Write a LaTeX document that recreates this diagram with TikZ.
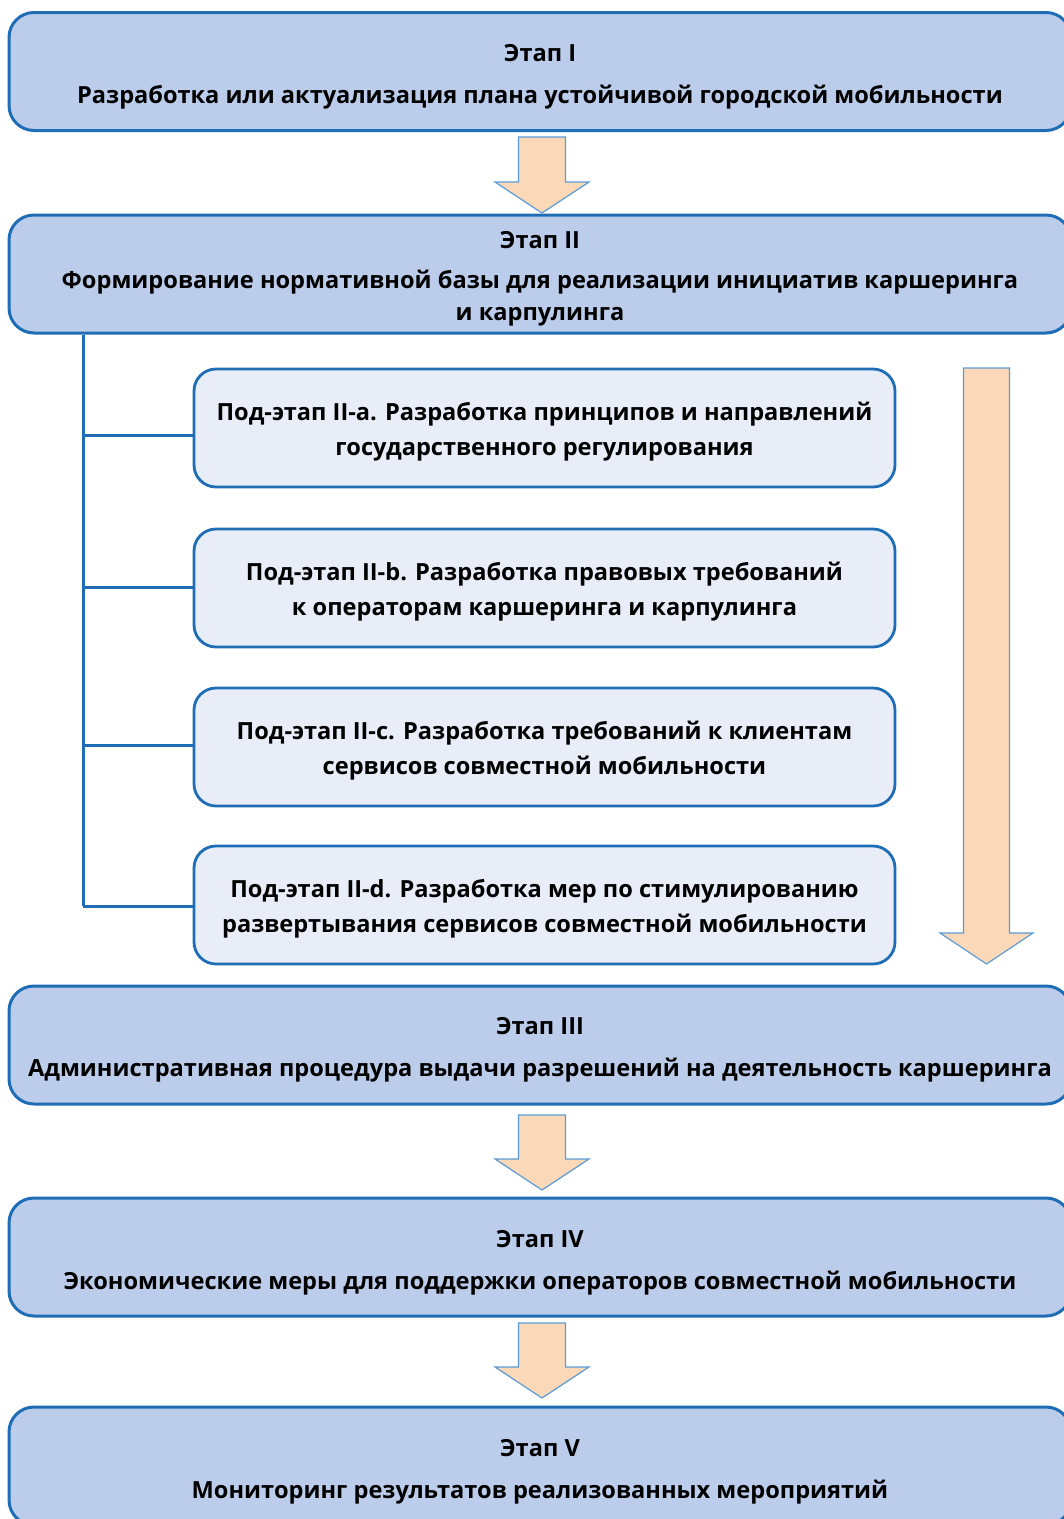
\documentclass[tikz,border=0pt]{standalone}
\usepackage{fontspec}
\setmainfont{Open Sans}
\usetikzlibrary{calc}
\definecolor{boxline}{HTML}{1F6DB5}
\definecolor{bigfill}{HTML}{BCCDEB}
\definecolor{subfill}{HTML}{E8EDF8}
\definecolor{arrfill}{HTML}{FBD9B8}
\definecolor{arrline}{HTML}{5B9BD5}
\tikzset{
  txt/.style={font=\fontsize{23.6}{32}\selectfont\bfseries, text=black, align=center, inner sep=0pt},
  bigbox/.style={draw=boxline, line width=3pt, fill=bigfill, rounded corners=25pt,
    minimum width=1062pt, minimum height=118pt, inner sep=0pt},
  subbox/.style={draw=boxline, line width=2.8pt, fill=subfill, rounded corners=22pt,
    minimum width=701pt, minimum height=118pt, inner sep=0pt},
  blockarrow/.style={draw=arrline, line width=1.2pt, fill=arrfill, line join=miter},
  treeline/.style={draw=boxline, line width=3pt}
}
\begin{document}
\begin{tikzpicture}[x=1pt,y=-1pt]
\useasboundingbox (0,0) rectangle (1064,1519);
\clip (0,0) rectangle (1064,1519);
% big boxes
\node[bigbox] (s1) at (540,71.5) {};
\node[txt] (s1t) at ($(s1.center)+(0,5)$) {Этап I\\[10pt]Разработка или актуализация плана устойчивой городской мобильности};
\node[bigbox] (s2) at (540,274) {};
\node[txt] (s2t) at ($(s2.center)+(0,5)$) {Этап II\\[8pt]Формирование нормативной базы для реализации инициатив каршеринга\\[0pt]и карпулинга};
\node[bigbox] (s3) at (540,1045) {};
\node[txt] (s3t) at ($(s3.center)+(0,5)$) {Этап III\\[10pt]Административная процедура выдачи разрешений на деятельность каршеринга};
\node[bigbox] (s4) at (540,1257) {};
\node[txt] (s4t) at ($(s4.center)+(0,6)$) {Этап IV\\[10pt]Экономические меры для поддержки операторов совместной мобильности};
\node[bigbox] (s5) at (540,1466) {};
\node[txt] (s5t) at ($(s5.center)+(0,5.5)$) {Этап V\\[10pt]Мониторинг результатов реализованных мероприятий};
% sub boxes
\node[subbox] (a) at (544.5,428) {};
\node[txt] (at) at ($(a.center)+(0,4)$) {Под-этап II-a. Разработка принципов и направлений\\[3pt]государственного регулирования};
\node[subbox] (b) at (544.5,588) {};
\node[txt] (bt) at ($(b.center)+(0,4)$) {Под-этап II-b. Разработка правовых требований\\[3pt]к операторам каршеринга и карпулинга};
\node[subbox] (c) at (544.5,747) {};
\node[txt] (ct) at ($(c.center)+(0,4)$) {Под-этап II-c. Разработка требований к клиентам\\[3pt]сервисов совместной мобильности};
\node[subbox] (d) at (544.5,905) {};
\node[txt] (dt) at ($(d.center)+(0,4)$) {Под-этап II-d. Разработка мер по стимулированию\\[3pt]развертывания сервисов совместной мобильности};
% tree
\coordinate (root) at (s2.south -| 83,0);
\coordinate (trunk) at (83,906);
\draw[treeline] (root) -- (trunk);
\draw[treeline] (83,435) -- (83,435 -| a.west);
\draw[treeline] (83,587) -- (83,587 -| b.west);
\draw[treeline] (83,745) -- (83,745 -| c.west);
\draw[treeline] (trunk) -- (trunk -| d.west);
% block arrows between stages
\draw[blockarrow] (518.5,137) -- (565.5,137) -- (565.5,182) -- (589,182) -- (542,213) -- (495,182) -- (518.5,182) -- cycle;
\draw[blockarrow] (518.5,1115) -- (565.5,1115) -- (565.5,1159) -- (589,1159) -- (542,1190) -- (495,1159) -- (518.5,1159) -- cycle;
\draw[blockarrow] (518.5,1323) -- (565.5,1323) -- (565.5,1367) -- (589,1367) -- (542,1398) -- (495,1367) -- (518.5,1367) -- cycle;
% long arrow
\draw[blockarrow] (963.5,368) -- (1009.5,368) -- (1009.5,933) -- (1033,933) -- (986.5,964) -- (940,933) -- (963.5,933) -- cycle;
\end{tikzpicture}
\end{document}
